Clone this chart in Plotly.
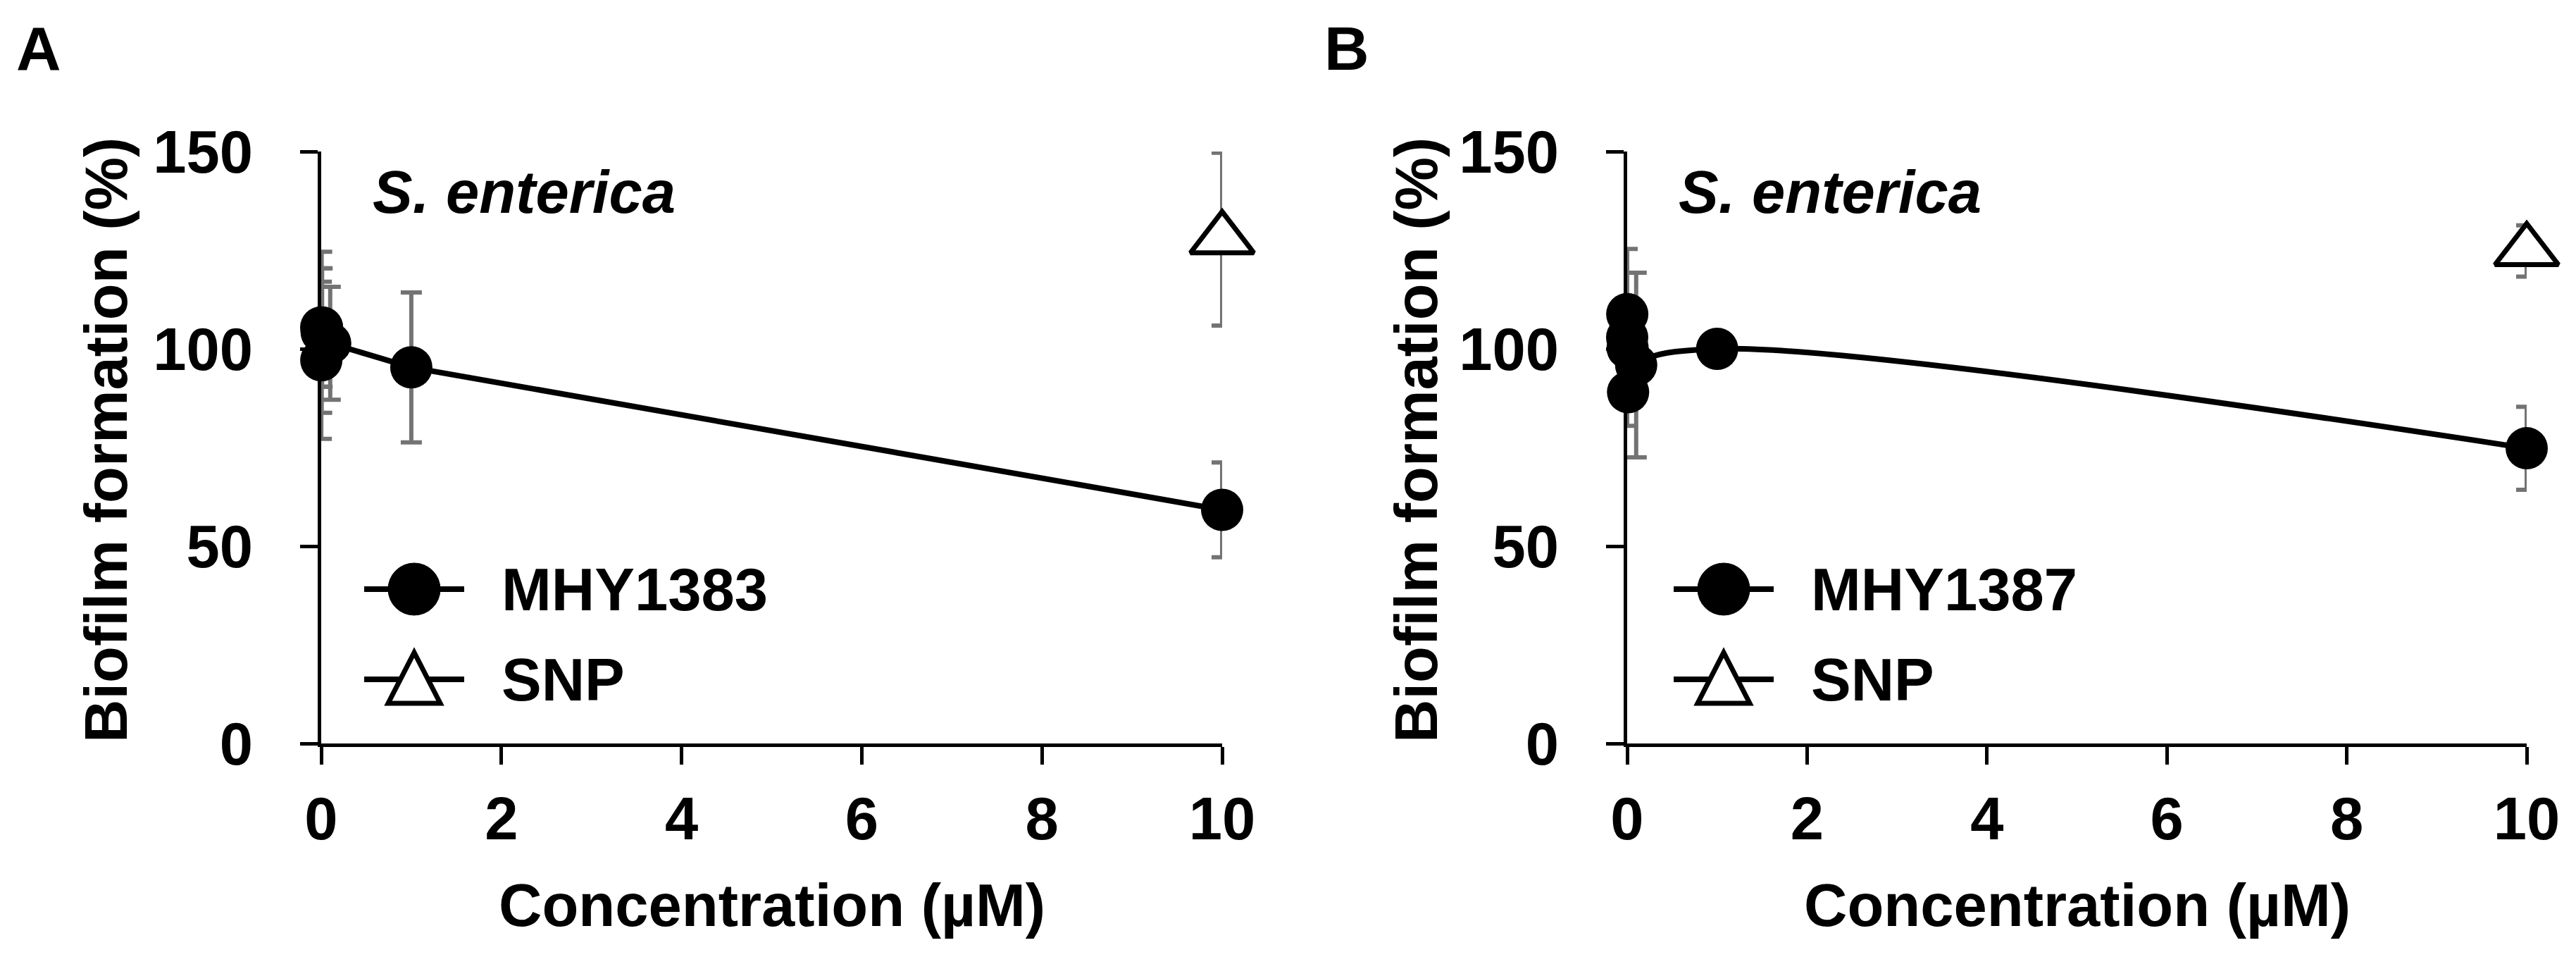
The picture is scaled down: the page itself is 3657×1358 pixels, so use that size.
import plotly.graph_objects as go

# concentrations (µM) shared by both panels
conc = [0, 0.001, 0.005, 0.01, 0.1, 1, 10]

# panel A: MHY1383
mhy1383 = [105.4, 97.1, 104.2, 105.4, 101.4, 95.3, 59.2]
mhy1383_err = [15.0, 19.9, 20.4, 15.0, 14.3, 19.0, 12.0]

# panel B: MHY1387
mhy1387 = [102.9, 108.8, 100.2, 89.0, 95.9, 100.0, 74.8]
mhy1387_err = [22.4, 4.0, 5.0, 4.0, 23.4, 3.0, 10.5]

# SNP reference (10 µM only)
snp_conc = [10]
snp_a = [127.8]
snp_a_err = [21.9]
snp_b = [124.8]
snp_b_err = [6.5]

x_ticks = [0, 2, 4, 6, 8, 10]
y_ticks = [0, 50, 100, 150]

W, H = 3657, 1358
FONT = "Arial, Liberation Sans, sans-serif"
ERR_COLOR = "#737373"

def px(v):
    return v / W

def py(v):
    return 1 - v / H

fig = go.Figure()

def add_panel(xa, ya, y, err, snp, snp_err, shape):
    fig.add_trace(go.Scatter(
        x=conc, y=y, xaxis=xa, yaxis=ya, mode="lines+markers",
        line=dict(color="black", width=8, shape=shape, smoothing=1),
        marker=dict(symbol="circle", size=60, color="black"),
        error_y=dict(type="data", array=err, color=ERR_COLOR, thickness=6, width=15),
        cliponaxis=False, showlegend=False,
    ))
    fig.add_trace(go.Scatter(
        x=snp_conc, y=snp, xaxis=xa, yaxis=ya, mode="markers",
        marker=dict(symbol="triangle-up", size=78, color="white",
                    line=dict(color="black", width=7)),
        error_y=dict(type="data", array=snp_err, color=ERR_COLOR, thickness=6, width=15),
        cliponaxis=False, showlegend=False,
    ))

add_panel("x", "y", mhy1383, mhy1383_err, snp_a, snp_a_err, "linear")
add_panel("x2", "y2", mhy1387, mhy1387_err, snp_b, snp_b_err, "spline")

axis_common = dict(
    showline=True, linecolor="black", linewidth=5,
    ticks="outside", ticklen=25, tickwidth=5, tickcolor="black",
    showgrid=False, zeroline=False, automargin=False,
    tickfont=dict(family=FONT, size=85, color="black", weight="bold"),
)
y_dom = [py(1047), py(207)]
fig.update_layout(
    width=W, height=H,
    margin=dict(l=0, r=0, t=0, b=0, autoexpand=False),
    paper_bgcolor="white", plot_bgcolor="white",
    showlegend=False,
    xaxis=dict(domain=[px(448), px(1727)], range=[0, 10], tickvals=x_ticks,
               anchor="y", ticklabelstandoff=4, **axis_common),
    yaxis=dict(domain=y_dom, range=[0, 150], tickvals=y_ticks,
               anchor="x", ticklabelstandoff=50, **axis_common),
    xaxis2=dict(domain=[px(2302), px(3579)], range=[0, 10], tickvals=x_ticks,
                anchor="y2", ticklabelstandoff=4, **axis_common),
    yaxis2=dict(domain=y_dom, range=[0, 150], tickvals=y_ticks,
                anchor="x2", ticklabelstandoff=50, **axis_common),
)

def txt(text, x, y, size=85, xanchor="center", yanchor="middle", angle=0):
    fig.add_annotation(
        text=text, x=px(x), y=py(y), xref="paper", yref="paper",
        xanchor=xanchor, yanchor=yanchor, textangle=angle, showarrow=False,
        font=dict(family=FONT, size=size, color="black", weight="bold"),
    )

panels = [
    dict(x0=448, x1=1727, label="A", lx=47, name="MHY1383", ytx=143, leg=509),
    dict(x0=2302, x1=3579, label="B", lx=1904, name="MHY1387", ytx=2003, leg=2368),
]

for p in panels:
    txt(p["label"], p["lx"], 61, size=88)
    txt("Biofilm formation (%)", p["ytx"], 617, angle=-90)
    txt("Concentration (µM)", (p["x0"] + p["x1"]) / 2, 1276)
    txt("<i>S. enterica</i>", p["x0"] + 71, 265, xanchor="left")

    # hand-drawn legend (plotly caps legend symbol size)
    rows = [(828, p["name"], "circle"), (956, "SNP", "triangle")]
    for yy, label, sym in rows:
        fig.add_shape(type="line", xref="paper", yref="paper",
                      x0=px(p["leg"]), x1=px(p["leg"] + 142), y0=py(yy), y1=py(yy),
                      line=dict(color="black", width=8))
        cx = px(p["leg"] + 71)
        if sym == "circle":
            fig.add_shape(type="circle", xref="paper", yref="paper",
                          xsizemode="pixel", ysizemode="pixel",
                          xanchor=cx, yanchor=py(yy),
                          x0=-37, x1=37, y0=-37, y1=37,
                          fillcolor="black", line=dict(color="black", width=1))
        else:
            fig.add_shape(type="path", xref="paper", yref="paper",
                          xsizemode="pixel", ysizemode="pixel",
                          xanchor=cx, yanchor=py(yy),
                          path="M -37,-34 L 37,-34 L 0,38 Z",
                          fillcolor="white", line=dict(color="black", width=7))
        txt(label, p["leg"] + 193, yy, xanchor="left")

fig.write_html("out.html")
